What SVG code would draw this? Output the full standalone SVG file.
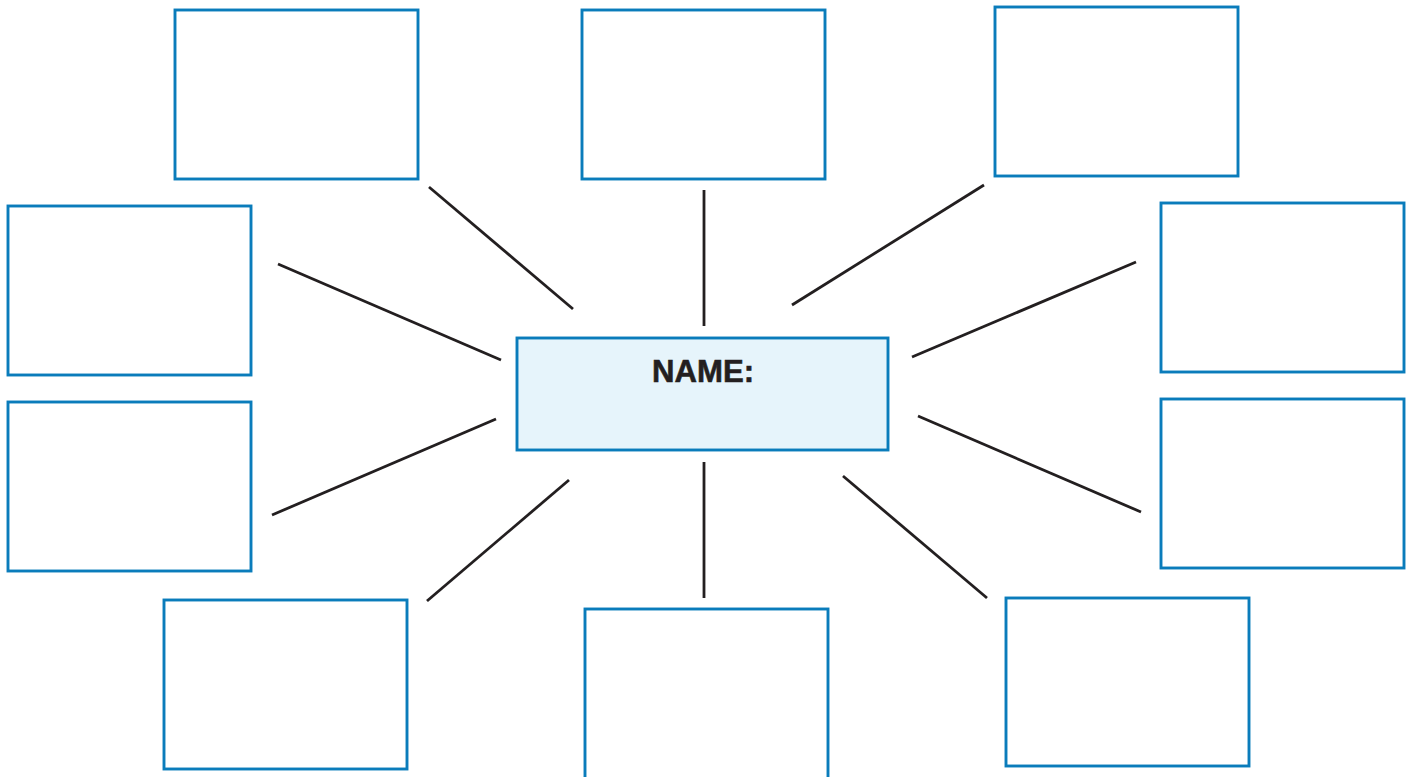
<svg xmlns="http://www.w3.org/2000/svg" width="1413" height="777" viewBox="0 0 1413 777">
<style>
.box{fill:#ffffff;stroke:#0a7cbb;stroke-width:2.9}
.center{fill:#e6f4fb;stroke:#0a7cbb;stroke-width:2.9}
.conn line{stroke:#231f20;stroke-width:2.8;stroke-linecap:butt}
.label{font-family:"Liberation Sans",Arial,sans-serif;font-weight:bold;font-size:32px;fill:#231f20;stroke:#231f20;stroke-width:0.6}
</style>
<rect width="1413" height="777" fill="#ffffff"/>
<g id="connectors" class="conn">
<line x1="429" y1="187" x2="573" y2="309"/>
<line x1="704" y1="190" x2="704" y2="326"/>
<line x1="984" y1="185" x2="792" y2="305"/>
<line x1="278" y1="264" x2="501" y2="360"/>
<line x1="1136" y1="262" x2="912" y2="357"/>
<line x1="496" y1="419" x2="272" y2="515"/>
<line x1="918" y1="416" x2="1141" y2="512"/>
<line x1="569" y1="480" x2="427" y2="601"/>
<line x1="704" y1="462" x2="704" y2="598"/>
<line x1="843" y1="476" x2="987" y2="598"/>
</g>
<g id="center"><rect class="center" x="517" y="338" width="371" height="112"/><text class="label" x="703" y="382" text-anchor="middle" textLength="102" lengthAdjust="spacingAndGlyphs">NAME:</text></g>
<g id="box-top-left"><rect class="box" x="175" y="10" width="243" height="169"/></g>
<g id="box-top-middle"><rect class="box" x="582" y="10" width="243" height="169"/></g>
<g id="box-top-right"><rect class="box" x="995" y="7" width="243" height="169"/></g>
<g id="box-left-upper"><rect class="box" x="8" y="206" width="243" height="169"/></g>
<g id="box-left-lower"><rect class="box" x="8" y="402" width="243" height="169"/></g>
<g id="box-right-upper"><rect class="box" x="1161" y="203" width="243" height="169"/></g>
<g id="box-right-lower"><rect class="box" x="1161" y="399" width="243" height="169"/></g>
<g id="box-bottom-left"><rect class="box" x="164" y="600" width="243" height="169"/></g>
<g id="box-bottom-middle"><rect class="box" x="585" y="609" width="243" height="175"/></g>
<g id="box-bottom-right"><rect class="box" x="1006" y="598" width="243" height="168"/></g>
</svg>
